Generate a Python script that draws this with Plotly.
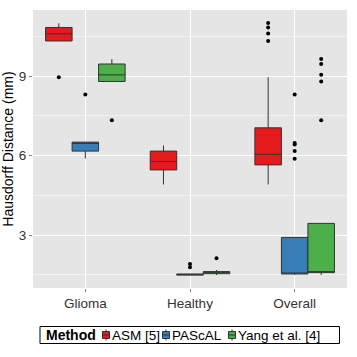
import plotly.graph_objects as go

categories = ["Glioma", "Healthy", "Overall"]
methods = ["ASM [5]", "PAScAL", "Yang et al. [4]"]
colors = ["#E41A1C", "#377EB8", "#4DAF4A"]

asm_q1 = [10.33, 5.46, 5.65]
asm_med = [10.60, 5.78, 6.05]
asm_q3 = [10.84, 6.17, 7.05]
asm_lo = [10.33, 4.91, 4.91]
asm_hi = [11.00, 6.38, 8.96]
asm_out = [[8.96], [], [11.01, 10.84, 10.61, 10.33]]

pas_q1 = [6.17, 1.49, 1.53]
pas_med = [6.46, 1.50, 1.55]
pas_q3 = [6.51, 1.53, 2.91]
pas_lo = [5.89, 1.49, 1.50]
pas_hi = [6.51, 1.53, 2.91]
pas_out = [[8.31], [1.91, 1.78], [8.31, 6.48, 6.42, 6.17, 5.88]]

yang_q1 = [8.80, 1.54, 1.58]
yang_med = [9.05, 1.58, 1.61]
yang_q3 = [9.46, 1.62, 3.44]
yang_lo = [8.80, 1.49, 1.49]
yang_hi = [9.64, 1.68, 3.44]
yang_out = [[7.34], [2.12], [9.65, 9.46, 9.05, 8.80, 7.34]]

y_ticks = [3, 6, 9]
y_minor = [1.5, 4.5, 7.5, 10.5]
legend_title = "Method"

stats = [
    (asm_q1, asm_med, asm_q3, asm_lo, asm_hi, asm_out),
    (pas_q1, pas_med, pas_q3, pas_lo, pas_hi, pas_out),
    (yang_q1, yang_med, yang_q3, yang_lo, yang_hi, yang_out),
]

W, H = 357, 357
ML, MR, MT, MB = 33, 10, 10, 69
PW, PH = W - ML - MR, H - MT - MB
OUTLINE = "#333333"
FONT = "Liberation Sans, Arial, sans-serif"


def px(x):
    return (x - ML) / PW


def py(y):
    return (H - MB - y) / PH


fig = go.Figure()
for name, col, (q1, med, q3, lo, hi, out) in zip(methods, colors, stats):
    fig.add_trace(go.Box(
        name=name, x=categories, q1=q1, median=med, q3=q3,
        lowerfence=lo, upperfence=hi, fillcolor=col,
        line=dict(color=OUTLINE, width=1), whiskerwidth=0,
        offsetgroup=name, boxpoints=False, legendgroup=name, showlegend=False,
    ))
for name, col, (q1, med, q3, lo, hi, out) in zip(methods, colors, stats):
    xs, ys = [], []
    for c, vals in zip(categories, out):
        for v in vals:
            xs.append(c)
            ys.append(v)
    fig.add_trace(go.Scatter(
        x=xs, y=ys, mode="markers", marker=dict(color="black", size=4),
        offsetgroup=name, showlegend=False, legendgroup=name, hoverinfo="y",
    ))

# legend drawn below the panel (ggplot style, compact keys)
shapes = []
annotations = []
leg_top, leg_bot = 326.5, 343.5
leg_mid = (leg_top + leg_bot) / 2
shapes.append(dict(type="rect", xref="paper", yref="paper",
                   x0=px(40), x1=px(339.5), y0=py(leg_bot), y1=py(leg_top),
                   line=dict(color="black", width=1), fillcolor="white", layer="below"))
annotations.append(dict(xref="paper", yref="paper", x=px(44.5), y=py(leg_mid),
                        text="<b>%s</b>" % legend_title, showarrow=False,
                        xanchor="left", yanchor="middle", borderpad=0,
                        font=dict(size=14, family=FONT, color="black")))
key_centers = [106, 166, 232]
for name, col, kc in zip(methods, colors, key_centers):
    shapes.append(dict(type="line", xref="paper", yref="paper",
                       x0=px(kc), x1=px(kc), y0=py(leg_mid + 5.5), y1=py(leg_mid - 5.5),
                       line=dict(color=OUTLINE, width=1)))
    shapes.append(dict(type="rect", xref="paper", yref="paper",
                       x0=px(kc - 3.5), x1=px(kc + 3.5), y0=py(leg_mid + 3.5), y1=py(leg_mid - 3.5),
                       line=dict(color=OUTLINE, width=1), fillcolor=col))
    shapes.append(dict(type="line", xref="paper", yref="paper",
                       x0=px(kc - 3.5), x1=px(kc + 3.5), y0=py(leg_mid), y1=py(leg_mid),
                       line=dict(color=OUTLINE, width=1)))
    annotations.append(dict(xref="paper", yref="paper", x=px(kc + 4.5), y=py(leg_mid),
                            text=name, showarrow=False, xanchor="left", yanchor="middle",
                            borderpad=0,
                            font=dict(size=13.5, family=FONT, color="black")))

fig.update_layout(
    width=W, height=H,
    margin=dict(l=ML, r=MR, t=MT, b=MB),
    paper_bgcolor="white", plot_bgcolor="#E5E5E5",
    boxmode="group", boxgap=0.24, boxgroupgap=0,
    scattermode="group", scattergap=0.24,
    font=dict(family=FONT, size=13, color="black"),
    showlegend=False,
    shapes=shapes, annotations=annotations,
)
fig.update_xaxes(
    type="category", categoryorder="array", categoryarray=categories,
    showgrid=True, gridcolor="white", gridwidth=1.2,
    ticks="outside", ticklen=3, tickcolor="#7F7F7F",
    tickfont=dict(size=13.5, color="#333333"), zeroline=False, automargin=False,
)
fig.update_yaxes(
    range=[1.0, 11.5], tickvals=y_ticks,
    showgrid=True, gridcolor="white", gridwidth=1.2,
    minor=dict(tickvals=y_minor, showgrid=True, gridcolor="#F2F2F2", gridwidth=0.6),
    ticks="outside", ticklen=3, tickcolor="#7F7F7F",
    tickfont=dict(size=13.5, color="#333333"), zeroline=False, automargin=False,
    title=dict(text="Hausdorff Distance (mm)", font=dict(size=14), standoff=2),
)
fig.write_html("out.html", config={"displayModeBar": False},
               post_script="document.body.style.margin='0px';")
